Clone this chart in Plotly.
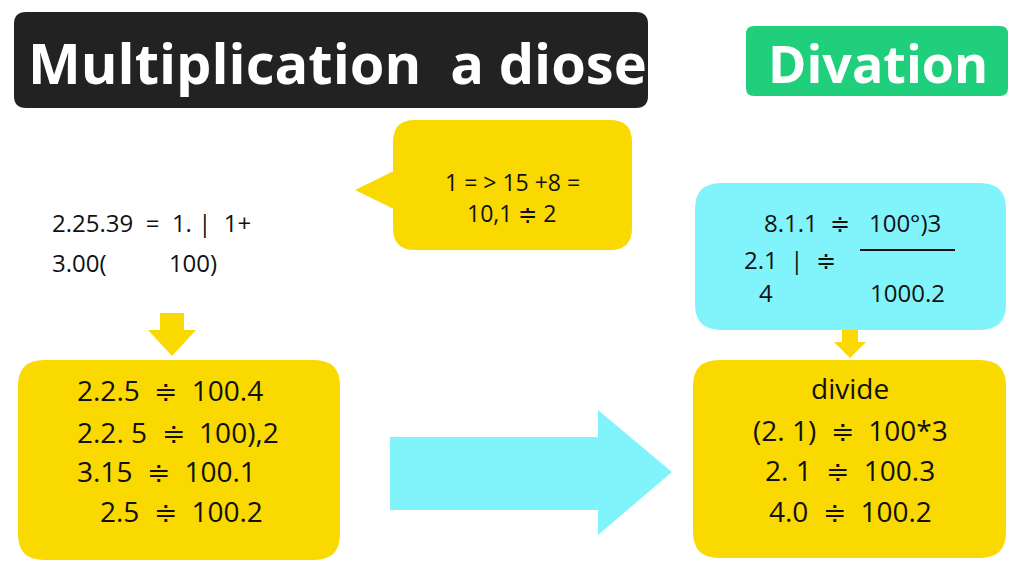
import plotly.graph_objects as go

title_left = "Multiplication  a diose"
title_right = "Divation"
bubble_lines = ["1 = > 15 +8 =", "10,1 ≑ 2"]
left_lines = ["2.25.39  =  1. |  1+", "3.00(          100)"]
left_box_lines = ["2.2.5  ≑  100.4", "2.2. 5  ≑  100),2", "3.15  ≑  100.1", "2.5  ≑  100.2"]
left_box_x = [75, 75, 75, 98]
cyan_lines = [("8.1.1  ≑   100°)3", 852, 222), ("2.1  |  ≑", 790, 259), ("4", 766, 292), ("1000.2", 907, 292)]
right_box_lines = ["divide", "(2. 1)  ≑  100*3", "2. 1  ≑  100.3", "4.0  ≑  100.2"]

YEL = "#fad900"; CYAN = "#80f4fa"; FONT = "Open Sans"

def rrect(x0, y0, x1, y1, r):
    return (f"M{x0+r},{y0} L{x1-r},{y0} Q{x1},{y0} {x1},{y0+r} L{x1},{y1-r} Q{x1},{y1} {x1-r},{y1} "
            f"L{x0+r},{y1} Q{x0},{y1} {x0},{y1-r} L{x0},{y0+r} Q{x0},{y0} {x0+r},{y0} Z")

fig = go.Figure()
shapes = []
def add(path, color):
    shapes.append(dict(type="path", path=path, fillcolor=color, line=dict(width=0), layer="below"))

add(rrect(14, 12, 648, 108, 12), "#222222")
add(rrect(746, 26, 1008, 96, 8), "#1fcf7c")
add(rrect(393, 120, 632, 250, 22), YEL)
add("M400,168 L355,190 L400,212 Z", YEL)
add("M160,313 L184,313 L184,330 L196,330 L172,356 L148,330 L160,330 Z", YEL)
add(rrect(18, 360, 340, 560, 26), YEL)
add("M390,437 L598,437 L598,410 L672,472 L598,535 L598,510 L390,510 Z", CYAN)
add(rrect(695, 183, 1006, 330, 26), CYAN)
add("M842,330 L858,330 L858,342 L866,342 L850,358 L834,342 L842,342 Z", YEL)
add(rrect(693, 360, 1006, 558, 26), YEL)
shapes.append(dict(type="line", x0=860, x1=955, y0=250, y1=250, line=dict(color="#111", width=2)))
fig.update_layout(shapes=shapes)

anns = []
def txt(s, x, y, size, color="#111", anchor="center", weight=500):
    anns.append(dict(text=s, x=x, y=y, xref="x", yref="y", showarrow=False, xanchor=anchor,
                     yanchor="middle", font=dict(family=FONT, size=size, color=color, weight=weight)))

txt(title_left, 26, 62, 56, "white", "left", 700)
txt(title_right, 878, 62, 52, "white", weight=700)
for s, y in zip(bubble_lines, [182, 213]):
    txt(s, 512, y, 23)
for s, y in zip(left_lines, [222, 262]):
    txt(s, 50, y, 24, anchor="left")
for s, x, y in zip(left_box_lines, left_box_x, [390, 432, 471, 511]):
    txt(s, x, y, 28, anchor="left")
for s, x, y in cyan_lines:
    txt(s, x, y, 24)
for s, y in zip(right_box_lines, [388, 430, 470, 511]):
    txt(s, 850, y, 28)
fig.update_layout(annotations=anns)

fig.update_xaxes(range=[8, 1032], visible=False)
fig.update_yaxes(range=[593, 8], visible=False)
fig.update_layout(width=1024, height=585, margin=dict(l=0, r=0, t=0, b=0),
                  plot_bgcolor="white", paper_bgcolor="white", showlegend=False)
fig.write_html("out.html", config={"displayModeBar": False})
